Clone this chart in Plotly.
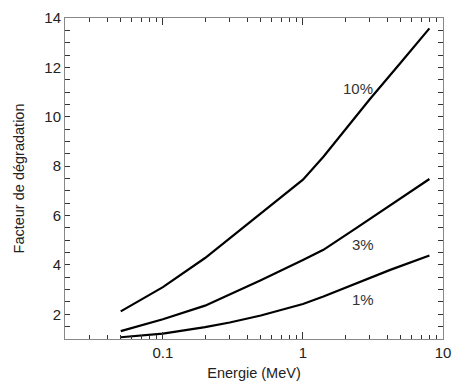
import math
import plotly.graph_objects as go

energy10 = [0.05, 0.1, 0.2, 0.3, 0.5, 1, 1.4, 2, 3, 5, 8]
f10 = [2.12, 3.1, 4.28, 5.08, 6.08, 7.45, 8.38, 9.48, 10.71, 12.2, 13.58]
energy3 = [0.05, 0.1, 0.2, 0.3, 0.5, 1, 1.4, 2.4, 4.2, 8]
f3 = [1.32, 1.8, 2.35, 2.8, 3.38, 4.2, 4.61, 5.49, 6.43, 7.48]
energy1 = [0.05, 0.1, 0.2, 0.3, 0.5, 1, 1.4, 2.4, 4.2, 8]
f1 = [1.07, 1.22, 1.48, 1.67, 1.95, 2.42, 2.72, 3.24, 3.8, 4.38]

labels = ["10%", "3%", "1%"]
label_x = [2.48, 2.67, 2.67]
label_y = [11.15, 4.81, 2.58]

font = "Liberation Sans, Arial, sans-serif"
fig = go.Figure()
for xs, ys in ((energy10, f10), (energy3, f3), (energy1, f1)):
    fig.add_trace(go.Scatter(x=xs, y=ys, mode="lines",
                             line=dict(color="black", width=2.2),
                             showlegend=False))
for t, lx, ly in zip(labels, label_x, label_y):
    fig.add_annotation(x=math.log10(lx), y=ly, xref="x", yref="y", text=t, showarrow=False,
                       font=dict(family=font, size=15, color="#333"))

fig.update_layout(
    width=454, height=389,
    margin=dict(l=65, r=11, t=18, b=50),
    paper_bgcolor="white", plot_bgcolor="white",
    font=dict(family=font, size=15, color="#222"),
)
fig.update_xaxes(type="log", range=[math.log10(0.02), 1], tickvals=[0.1, 1, 10],
                 ticktext=["0.1", "1", "10"], automargin=False,
                 ticks="inside", ticklen=7, tickcolor="#333", showline=True, linecolor="#888",
                 linewidth=1, mirror="ticks", showgrid=False, zeroline=False,
                 tickfont=dict(size=15),
                 minor=dict(ticks="inside", ticklen=4, tickcolor="#333",
                            tickvals=[0.03, 0.04, 0.05, 0.06, 0.07, 0.08, 0.09,
                                      0.2, 0.3, 0.4, 0.5, 0.6, 0.7, 0.8, 0.9,
                                      2, 3, 4, 5, 6, 7, 8, 9], showgrid=False),
                 title=dict(text="Energie (MeV)", standoff=7, font=dict(size=14.5)))
fig.update_yaxes(range=[1, 14], tickvals=[2, 4, 6, 8, 10, 12, 14], automargin=False,
                 ticks="inside", ticklen=5, tickcolor="#333", showline=True, linecolor="#888",
                 linewidth=1, mirror="ticks", showgrid=False, zeroline=False,
                 tickfont=dict(size=15),
                 minor=dict(ticks="inside", ticklen=5, tickcolor="#333", dtick=0.5, showgrid=False),
                 title=dict(text="Facteur de dégradation", standoff=16, font=dict(size=14.5)))
fig.write_html("out.html", config={"displayModeBar": False},
               post_script="document.body.style.margin='0';")
